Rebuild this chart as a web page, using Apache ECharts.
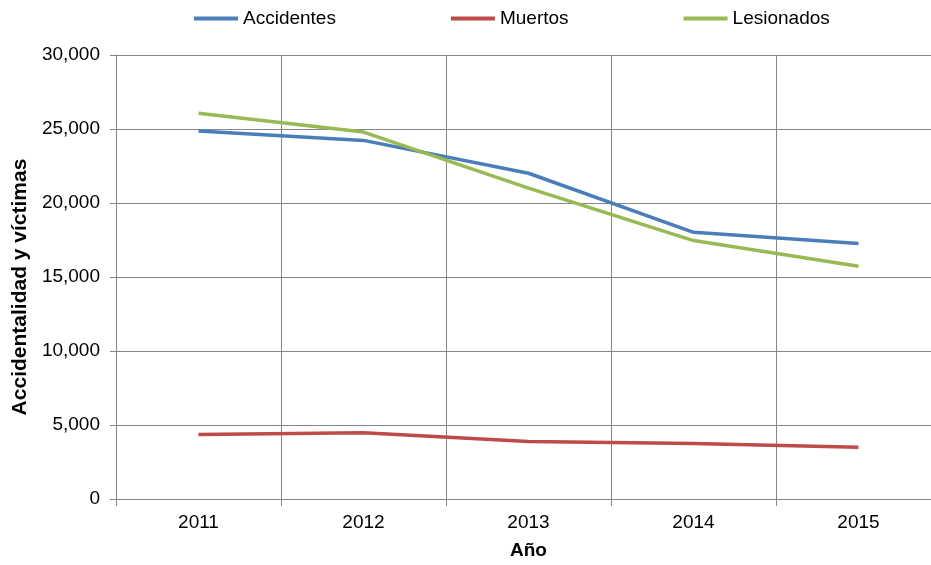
<!DOCTYPE html>
<html>
<head>
<meta charset="utf-8">
<script src="https://cdn.jsdelivr.net/npm/echarts@6/dist/echarts.min.js"></script>
<style>
  html, body { margin: 0; padding: 0; background: #fff; }
  #chart { width: 931px; height: 565px; }
</style>
</head>
<body>
<div id="chart"></div>
<script>
// data
var years = ['2011', '2012', '2013', '2014', '2015'];
var accidentes = [24870, 24230, 22010, 18020, 17260];
var muertos = [4350, 4470, 3880, 3750, 3500];
var lesionados = [26070, 24790, 21000, 17460, 15730];

var font = '"Liberation Sans", Arial, sans-serif';
var gridColor = '#868686';

var myChart = echarts.init(document.getElementById('chart'));
myChart.setOption({
    animation: false,
    textStyle: { fontFamily: font },
    color: ['#4a7ebb', '#be4b48', '#98b954'],
    legend: {
        top: 4,
        left: 189,
        itemWidth: 44,
        itemHeight: 4,
        itemGap: 115,
        icon: 'rect',
        textStyle: { fontSize: 19, color: '#000', fontFamily: font },
        data: ['Accidentes', 'Muertos', 'Lesionados']
    },
    grid: {
        left: 116,
        right: -10,   // plot runs a little past the right edge, as in the original
        top: 55,
        bottom: 66,
        outerBoundsMode: 'none',
        containLabel: false
    },
    xAxis: {
        type: 'category',
        data: years,
        boundaryGap: true,
        name: 'Año',
        nameLocation: 'middle',
        nameGap: 42,
        nameTextStyle: { fontSize: 19, fontWeight: 'bold', color: '#000' },
        axisLine: { lineStyle: { color: gridColor } },
        axisTick: { show: true, length: 7, lineStyle: { color: gridColor } },
        axisLabel: { fontSize: 19, color: '#000', margin: 14 },
        splitLine: { show: true, lineStyle: { color: gridColor } }
    },
    yAxis: {
        type: 'value',
        min: 0,
        max: 30000,
        interval: 5000,
        name: 'Accidentalidad y víctimas',
        nameLocation: 'middle',
        nameGap: 84,
        nameTextStyle: { fontSize: 21, fontWeight: 'bold', color: '#000', padding: [0, 20, 0, 0] },
        axisLine: { show: true, lineStyle: { color: gridColor } },
        axisTick: { show: true, length: 6, lineStyle: { color: gridColor } },
        axisLabel: {
            fontSize: 19,
            color: '#000',
            margin: 16,
            formatter: function (v) { return v.toLocaleString('en-US'); }
        },
        splitLine: { show: true, lineStyle: { color: gridColor } }
    },
    series: [
        {
            name: 'Accidentes',
            type: 'line',
            symbol: 'none',
            lineStyle: { width: 3.5 },
            data: accidentes
        },
        {
            name: 'Muertos',
            type: 'line',
            symbol: 'none',
            lineStyle: { width: 3.5 },
            data: muertos
        },
        {
            name: 'Lesionados',
            type: 'line',
            symbol: 'none',
            lineStyle: { width: 3.5 },
            data: lesionados
        }
    ]
});
</script>
</body>
</html>
